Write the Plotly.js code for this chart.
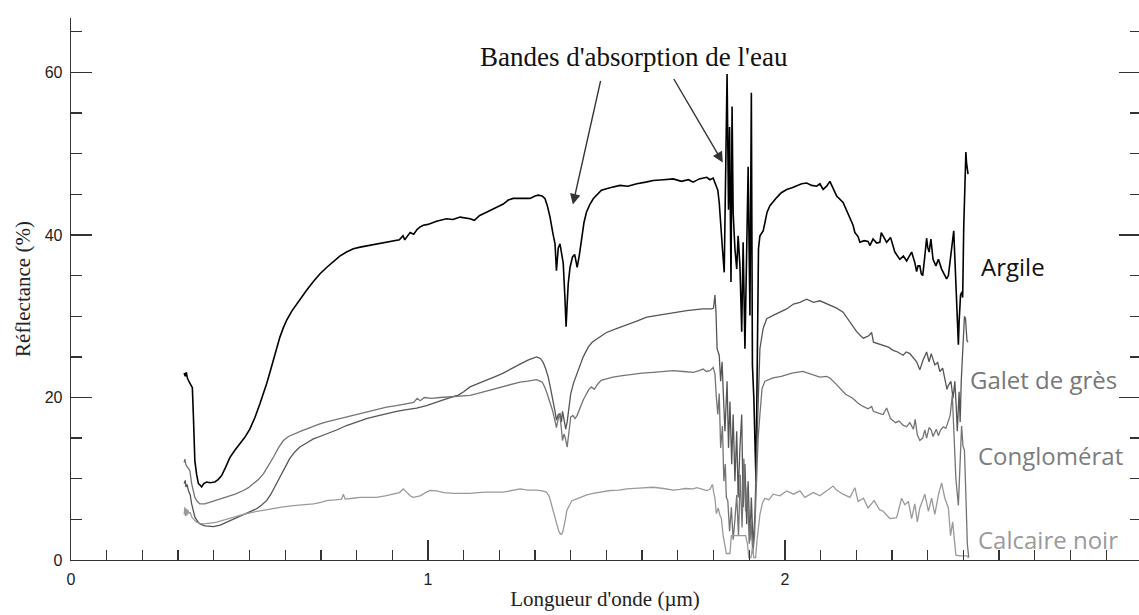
<!DOCTYPE html>
<html>
<head>
<meta charset="utf-8">
<script src="https://cdn.plot.ly/plotly-3.0.1.min.js"></script>
<style>html,body{margin:0;padding:0;background:#fff;}#chart{width:1139px;height:615px;}</style>
</head>
<body>
<div id="chart"></div>
<script>
// ---- Data (wavelength in µm, reflectance in %) ----
const seriesNames = ["Argile", "Galet de grès", "Conglomérat", "Calcaire noir"];

const xArgile = [0.317,0.320,0.323,0.326,0.330,0.336,0.340,0.343,0.347,0.352,0.357,0.362,0.366,0.372,0.380,0.390,0.403,0.412,0.422,0.433,0.445,0.459,0.473,0.487,0.501,0.515,0.529,0.539,0.548,0.558,0.567,0.576,0.585,0.595,0.604,0.618,0.632,0.646,0.660,0.678,0.697,0.716,0.735,0.753,0.772,0.791,0.810,0.833,0.856,0.880,0.903,0.920,0.930,0.935,0.940,0.950,0.960,0.970,0.978,0.987,1.000,1.024,1.052,1.070,1.090,1.118,1.130,1.145,1.164,1.190,1.211,1.225,1.239,1.262,1.286,1.300,1.309,1.320,1.328,1.335,1.342,1.350,1.356,1.360,1.365,1.370,1.375,1.379,1.384,1.387,1.390,1.393,1.398,1.405,1.411,1.418,1.424,1.430,1.437,1.444,1.453,1.463,1.475,1.486,1.510,1.538,1.560,1.585,1.610,1.631,1.660,1.687,1.710,1.730,1.743,1.760,1.781,1.790,1.799,1.807,1.812,1.816,1.820,1.825,1.830,1.835,1.838,1.842,1.845,1.849,1.852,1.855,1.860,1.865,1.869,1.874,1.879,1.883,1.888,1.893,1.897,1.902,1.906,1.909,1.913,1.919,1.922,1.926,1.930,1.939,1.944,1.950,1.958,1.968,1.977,1.990,2.005,2.020,2.033,2.047,2.061,2.075,2.089,2.098,2.107,2.117,2.126,2.135,2.145,2.163,2.173,2.182,2.191,2.196,2.205,2.210,2.222,2.233,2.238,2.247,2.257,2.266,2.270,2.275,2.285,2.296,2.303,2.308,2.322,2.332,2.341,2.355,2.364,2.369,2.373,2.378,2.382,2.386,2.392,2.397,2.400,2.404,2.409,2.415,2.423,2.430,2.439,2.447,2.453,2.458,2.462,2.467,2.473,2.477,2.481,2.486,2.488,2.492,2.496,2.498,2.501,2.504,2.507,2.509,2.513];
const yArgile = [23.0,22.6,23.1,22.4,22.0,21.6,21.2,17.6,12.2,10.5,9.4,9.2,9.0,9.4,9.6,9.5,9.6,9.9,10.4,11.4,12.6,13.5,14.3,15.1,16.1,17.5,19.2,20.4,21.7,23.2,24.6,26.0,27.4,28.6,29.5,30.6,31.5,32.4,33.2,34.2,35.2,36.0,36.7,37.4,37.9,38.3,38.5,38.7,38.9,39.1,39.3,39.4,39.9,39.4,39.7,40.3,40.1,40.7,41.0,41.2,41.3,41.7,42.0,41.9,42.2,42.0,41.8,42.4,42.8,43.3,43.8,44.3,44.5,44.5,44.5,44.8,44.9,44.8,44.45,43.5,42.2,40.2,38.9,35.6,38.4,38.9,37.3,36.5,32.0,28.7,31.5,34.0,36.0,37.3,37.6,36.0,37.5,39.7,41.5,42.8,43.7,44.45,45.0,45.5,45.8,46.1,46.0,46.3,46.5,46.7,46.8,46.9,46.6,46.8,46.5,46.9,47.1,46.8,47.0,46.0,45.5,44.0,40.7,38.3,35.4,47.6,59.8,43.1,53.3,34.2,55.8,42.7,38.3,35.8,39.9,36.2,28.1,39.1,26.0,38.3,48.4,30.1,57.5,24.0,19.9,9.7,26.0,38.3,39.9,40.5,41.5,42.8,43.6,44.2,44.6,45.2,45.6,45.8,46.0,46.3,46.4,46.1,46.0,46.3,45.6,46.0,46.6,45.8,44.8,44.0,43.0,42.3,41.2,40.3,39.8,39.1,39.3,39.2,38.7,39.5,39.0,39.1,40.3,39.9,39.1,39.7,38.7,37.9,37.0,37.4,36.8,37.9,36.6,35.5,36.2,36.2,35.2,35.0,37.4,39.6,38.5,37.9,39.5,37.0,36.2,37.0,35.8,35.2,34.6,35.0,36.5,38.3,40.5,36.2,30.9,26.5,29.3,32.6,33.0,32.3,41.0,46.0,50.2,48.8,47.5];

const xGalet = [0.317,0.320,0.322,0.325,0.329,0.334,0.338,0.343,0.347,0.354,0.361,0.375,0.399,0.418,0.436,0.460,0.483,0.502,0.520,0.535,0.548,0.560,0.571,0.581,0.590,0.601,0.613,0.627,0.641,0.660,0.679,0.697,0.716,0.744,0.772,0.800,0.828,0.856,0.884,0.912,0.940,0.968,0.996,1.020,1.043,1.065,1.085,1.100,1.118,1.140,1.164,1.190,1.211,1.235,1.258,1.280,1.304,1.315,1.323,1.330,1.337,1.344,1.351,1.356,1.360,1.365,1.370,1.374,1.377,1.382,1.386,1.390,1.393,1.400,1.408,1.417,1.426,1.435,1.449,1.460,1.473,1.486,1.500,1.530,1.557,1.585,1.613,1.640,1.669,1.700,1.725,1.750,1.771,1.795,1.800,1.804,1.807,1.810,1.816,1.820,1.824,1.828,1.832,1.838,1.842,1.846,1.851,1.855,1.860,1.865,1.869,1.874,1.879,1.883,1.888,1.893,1.897,1.902,1.906,1.911,1.916,1.921,1.926,1.930,1.939,1.949,1.967,1.986,2.005,2.024,2.042,2.061,2.080,2.098,2.117,2.130,2.145,2.163,2.182,2.201,2.214,2.220,2.235,2.243,2.248,2.262,2.275,2.290,2.303,2.316,2.331,2.340,2.350,2.360,2.369,2.378,2.387,2.397,2.404,2.410,2.420,2.428,2.434,2.442,2.448,2.454,2.458,2.465,2.471,2.476,2.480,2.483,2.488,2.491,2.494,2.498,2.503,2.506,2.510,2.513];
const yGalet = [9.4,9.8,9.0,9.3,8.55,8.0,6.9,6.0,5.3,4.8,4.45,4.2,4.1,4.3,4.65,5.1,5.5,5.9,6.3,6.8,7.3,8.1,9.0,9.8,10.6,11.6,12.5,13.3,13.9,14.4,14.9,15.2,15.5,16.0,16.55,17.0,17.4,17.7,18.0,18.3,18.5,18.7,19.0,19.4,19.7,20.0,20.3,20.7,21.3,21.7,22.1,22.6,23.0,23.6,24.1,24.6,25.0,24.8,24.3,23.5,22.5,21.0,19.6,18.3,17.2,17.9,18.0,17.0,18.3,17.2,16.1,17.0,18.0,20.45,21.8,22.9,24.0,25.0,26.2,26.8,27.2,27.6,28.0,28.5,28.9,29.4,29.9,30.1,30.3,30.5,30.7,30.8,30.9,30.9,31.0,32.6,30.5,26.0,25.2,22.0,24.4,19.9,15.85,22.0,13.8,19.5,11.8,17.9,9.7,15.85,7.7,13.8,17.9,6.5,11.8,4.4,9.7,2.4,7.7,1.6,5.7,13.8,22.0,26.0,28.5,29.7,30.1,30.5,30.9,31.5,31.7,32.1,31.7,31.9,31.5,31.3,31.0,30.5,29.3,28.1,27.5,27.3,27.6,28.0,26.8,26.6,26.4,26.2,25.8,25.6,25.2,25.6,25.4,24.9,24.4,23.4,24.6,25.6,24.4,25.4,24.0,24.3,23.2,23.6,22.4,21.0,21.5,22.0,19.9,22.0,18.9,15.85,20.7,17.0,22.0,26.0,30.0,29.7,27.0,26.8];

const xConglomerat = [0.317,0.319,0.322,0.326,0.330,0.333,0.338,0.342,0.347,0.354,0.361,0.375,0.389,0.412,0.436,0.460,0.483,0.497,0.511,0.525,0.539,0.553,0.567,0.581,0.595,0.609,0.623,0.646,0.670,0.693,0.716,0.744,0.772,0.800,0.828,0.856,0.884,0.912,0.940,0.960,0.970,0.978,0.990,1.010,1.034,1.060,1.085,1.118,1.140,1.164,1.190,1.211,1.235,1.258,1.280,1.304,1.320,1.327,1.334,1.342,1.349,1.355,1.360,1.364,1.369,1.373,1.377,1.381,1.385,1.390,1.395,1.400,1.406,1.412,1.418,1.426,1.435,1.444,1.451,1.458,1.466,1.475,1.485,1.500,1.518,1.545,1.574,1.600,1.631,1.660,1.687,1.715,1.743,1.760,1.771,1.780,1.790,1.799,1.804,1.808,1.812,1.816,1.820,1.825,1.829,1.833,1.836,1.840,1.845,1.850,1.855,1.860,1.865,1.870,1.875,1.880,1.885,1.890,1.895,1.900,1.905,1.910,1.915,1.920,1.925,1.930,1.936,1.944,1.967,1.990,2.020,2.050,2.080,2.098,2.117,2.126,2.140,2.154,2.170,2.190,2.205,2.219,2.233,2.243,2.248,2.260,2.275,2.285,2.296,2.310,2.320,2.331,2.341,2.350,2.360,2.365,2.371,2.378,2.386,2.392,2.397,2.404,2.410,2.415,2.424,2.430,2.436,2.444,2.451,2.457,2.463,2.469,2.474,2.479,2.486,2.490,2.495,2.499,2.503,2.507,2.511,2.515];
const yConglomerat = [12.0,12.4,11.7,11.4,11.2,11.0,9.4,8.5,7.7,7.2,6.9,6.9,7.1,7.4,7.7,8.1,8.55,8.9,9.4,9.9,10.6,11.6,12.65,13.8,14.7,15.2,15.5,15.9,16.3,16.7,17.0,17.3,17.6,17.9,18.2,18.5,18.8,19.0,19.2,19.4,19.9,19.6,20.0,19.9,20.0,20.1,20.2,20.25,20.5,20.8,21.1,21.35,21.6,21.9,22.0,22.2,21.9,21.3,20.45,19.4,18.4,17.3,16.3,17.2,18.0,16.5,14.7,15.5,15.0,13.9,15.5,17.6,17.8,17.4,17.8,18.8,19.7,20.45,21.0,21.3,21.0,21.6,22.1,22.3,22.5,22.7,22.9,23.0,23.1,23.2,23.3,23.2,23.1,23.3,23.5,23.2,23.3,23.7,22.9,20.0,17.9,20.5,13.8,16.5,9.7,11.8,7.7,7.3,3.5,6.5,2.5,5.0,8.0,3.0,10.5,4.0,12.5,6.0,9.0,2.0,5.0,0.8,3.0,9.0,15.0,17.9,21.1,22.0,22.4,22.6,23.0,23.2,22.8,22.5,22.6,22.4,21.8,21.1,20.4,19.9,19.3,18.9,18.6,18.9,18.3,18.1,17.9,18.7,17.4,16.9,17.1,16.6,16.4,16.9,16.1,17.3,15.4,14.7,15.0,16.0,15.0,16.3,16.0,15.2,16.1,15.3,16.0,16.4,16.2,17.0,17.8,20.3,15.0,10.0,6.7,12.0,16.5,14.0,13.5,8.0,2.0,0.3];

const xCalcaire = [0.317,0.319,0.321,0.323,0.325,0.327,0.330,0.334,0.338,0.345,0.352,0.361,0.371,0.390,0.408,0.430,0.455,0.483,0.511,0.535,0.557,0.590,0.623,0.650,0.679,0.700,0.716,0.740,0.758,0.763,0.768,0.790,0.810,0.833,0.856,0.880,0.903,0.920,0.931,0.940,0.950,0.959,0.978,0.996,1.006,1.024,1.045,1.071,1.095,1.118,1.140,1.164,1.211,1.235,1.258,1.280,1.304,1.320,1.332,1.340,1.346,1.351,1.356,1.361,1.366,1.371,1.375,1.378,1.381,1.385,1.389,1.396,1.403,1.415,1.426,1.445,1.463,1.486,1.510,1.535,1.557,1.590,1.631,1.660,1.687,1.706,1.720,1.743,1.753,1.770,1.781,1.790,1.797,1.801,1.804,1.808,1.813,1.818,1.822,1.827,1.832,1.836,1.841,1.846,1.850,1.860,1.870,1.880,1.890,1.895,1.899,1.905,1.909,1.913,1.918,1.922,1.927,1.930,1.937,1.944,1.955,1.967,1.986,2.005,2.024,2.042,2.056,2.080,2.098,2.117,2.135,2.145,2.163,2.182,2.196,2.205,2.220,2.233,2.250,2.265,2.275,2.294,2.313,2.327,2.336,2.346,2.355,2.364,2.371,2.378,2.392,2.402,2.411,2.420,2.430,2.439,2.448,2.458,2.464,2.470,2.479,2.490,2.500,2.510,2.514];
const yCalcaire = [5.6,6.5,5.4,6.3,5.5,6.2,5.7,5.9,5.3,5.0,4.65,4.5,4.45,4.55,4.65,4.95,5.3,5.6,5.9,6.1,6.3,6.5,6.7,6.8,6.9,7.1,7.3,7.4,7.5,8.1,7.5,7.6,7.7,7.7,7.7,7.9,8.15,8.3,8.75,8.4,7.9,7.7,7.9,8.35,8.55,8.5,8.3,8.2,8.2,8.2,8.3,8.35,8.35,8.6,8.75,8.6,8.6,8.5,8.35,7.8,6.9,6.1,5.3,4.4,3.6,3.2,3.2,3.5,4.0,5.0,6.1,6.8,7.3,7.5,7.7,8.0,8.2,8.4,8.55,8.6,8.75,8.85,8.95,8.8,8.6,8.7,8.8,8.75,8.9,8.7,8.55,8.7,9.3,8.2,7.6,5.7,6.4,5.5,5.1,3.0,1.8,0.8,0.8,0.8,3.0,3.0,3.0,3.0,3.0,2.0,0.3,0.3,1.5,0.3,0.3,2.5,5.0,5.6,7.0,7.6,7.4,8.1,7.9,8.5,8.1,8.5,7.7,8.3,7.9,8.5,9.1,8.6,8.1,7.7,8.9,7.2,7.6,6.4,7.3,6.2,6.0,5.1,5.2,7.6,6.8,7.2,5.1,6.9,4.7,6.4,8.1,6.0,7.6,5.6,8.0,9.5,7.6,6.4,3.0,4.7,0.6,0.5,0.5,0.5,0.3];

const xTickVals = [0, 1, 2];
const xTickText = ["0", "1", "2"];
const yTickVals = [0, 20, 40, 60];
const yTickText = ["0", "20", "40", "60"];

// ---- Styling ----
const lineColors = ["#000000", "#555555", "#747474", "#9a9a9a"];
const labelColors = ["#111111", "#777777", "#7d7d7d", "#9a9a9a"];
const lineWidths = [1.6, 1.3, 1.3, 1.3];
const xs = [xArgile, xGalet, xConglomerat, xCalcaire];
const ys = [yArgile, yGalet, yConglomerat, yCalcaire];

const traces = seriesNames.map((n, i) => ({
  type: "scatter", mode: "lines", name: n,
  x: xs[i], y: ys[i],
  line: {color: lineColors[i], width: lineWidths[i]},
  showlegend: false, hoverinfo: "skip"
}));
// empty helper so the right-hand tick axis exists
traces.push({type: "scatter", mode: "lines", x: [], y: [], yaxis: "y2", showlegend: false, hoverinfo: "skip"});

const axisColor = "#333333";
const tickFont = {family: "Liberation Sans, Arial, sans-serif", size: 16, color: "#222222"};
const serif = "Liberation Serif, Times New Roman, serif";
const sans = "Open Sans, sans-serif";
const Y_MAX = 66.7;

const W = 1139, H = 615, ML = 71, MR = 0, MT = 18, MB = 55;
const plotW = W - ML - MR, plotH = H - MT - MB;
const px2paperX = p => (p - ML) / plotW;
const px2paperY = p => (H - MB - p) / plotH;

// label placement (pixel positions of text centres)
const labelPos = [[1013, 266], [1043.5, 379], [1050, 456], [1048, 539]];

const annotations = seriesNames.map((n, i) => ({
  text: n, xref: "paper", yref: "paper",
  x: px2paperX(labelPos[i][0]), y: px2paperY(labelPos[i][1]),
  xanchor: "center", yanchor: "middle", showarrow: false,
  font: {family: sans, size: 24, color: labelColors[i]}
}));
annotations.push({
  text: "Bandes d'absorption de l'eau", xref: "paper", yref: "paper",
  x: px2paperX(633.5), y: px2paperY(57), xanchor: "center", yanchor: "middle",
  showarrow: false, font: {family: serif, size: 27, color: "#111111"}
});
annotations.push({
  text: "", x: 1.406, y: 43.75, xref: "x", yref: "y",
  ax: 1.4846, ay: 59.14, axref: "x", ayref: "y",
  showarrow: true, arrowhead: 2, arrowsize: 1.5, arrowwidth: 1.4, arrowcolor: "#333333", standoff: 0
});
annotations.push({
  text: "", x: 1.826, y: 48.92, xref: "x", yref: "y",
  ax: 1.6863, ay: 59.38, axref: "x", ayref: "y",
  showarrow: true, arrowhead: 2, arrowsize: 1.5, arrowwidth: 1.4, arrowcolor: "#333333", standoff: 0
});

const layout = {
  width: W, height: H,
  margin: {l: ML, r: MR, t: MT, b: MB, pad: 0},
  paper_bgcolor: "#ffffff", plot_bgcolor: "#ffffff",
  showlegend: false,
  xaxis: {
    range: [0, 2.992], autorange: false, fixedrange: true,
    showline: true, linecolor: axisColor, linewidth: 1.3, mirror: false,
    showgrid: false, zeroline: false,
    tickmode: "array", tickvals: xTickVals, ticktext: xTickText,
    ticks: "inside", ticklen: 20, tickwidth: 1.3, tickcolor: axisColor,
    minor: {dtick: 0.1, tick0: 0, ticks: "inside", ticklen: 10, tickwidth: 1.3, tickcolor: axisColor, showgrid: false},
    tickfont: tickFont, ticklabelstandoff: 4,
    title: {text: "Longueur d'onde (µm)", font: {family: serif, size: 21, color: "#222222"}, standoff: 4},
    automargin: false
  },
  yaxis: {
    range: [0, Y_MAX], autorange: false, fixedrange: true,
    showline: true, linecolor: axisColor, linewidth: 1.3, mirror: false,
    showgrid: false, zeroline: false,
    tickmode: "array", tickvals: yTickVals, ticktext: yTickText,
    ticks: "inside", ticklen: 21, tickwidth: 1.3, tickcolor: axisColor,
    minor: {dtick: 5, tick0: 0, ticks: "inside", ticklen: 11, tickwidth: 1.3, tickcolor: axisColor, showgrid: false},
    tickfont: tickFont, ticklabelstandoff: 4,
    title: {text: "Réflectance (%)", font: {family: serif, size: 21, color: "#222222"}, standoff: 8},
    automargin: false
  },
  yaxis2: {
    overlaying: "y", side: "right", anchor: "x",
    range: [0, Y_MAX], autorange: false, fixedrange: true,
    showline: false, showgrid: false, zeroline: false, showticklabels: false,
    tickmode: "array", tickvals: yTickVals,
    ticks: "inside", ticklen: 20, tickwidth: 1.3, tickcolor: axisColor,
    minor: {dtick: 5, tick0: 0, ticks: "inside", ticklen: 9, tickwidth: 1.3, tickcolor: axisColor, showgrid: false}
  },
  annotations: annotations
};

Plotly.newPlot("chart", traces, layout, {staticPlot: true, displayModeBar: false});
</script>
</body>
</html>
